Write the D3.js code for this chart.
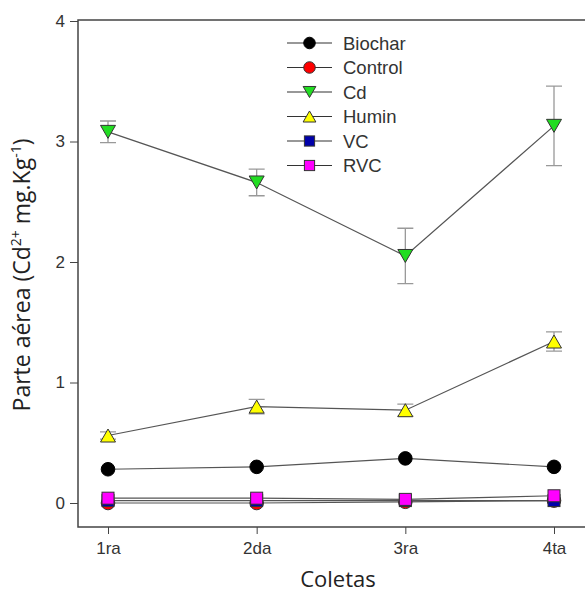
<!DOCTYPE html>
<html>
<head>
<meta charset="utf-8">
<script src="https://cdn.jsdelivr.net/npm/d3@7"></script>
<style>
  body { margin: 0; background: #fff; }
  text { font-family: "Liberation Sans", Arial, sans-serif; }
</style>
</head>
<body>
<script>
const coletas = ['1ra', '2da', '3ra', '4ta']
const yTicks = [0, 1, 2, 3, 4]

const biochar = [0.28, 0.30, 0.37, 0.30]
const control = [0.00, 0.00, 0.01, 0.02]
const cd = [3.08, 2.66, 2.05, 3.13]
const cdErr = [0.09, 0.11, 0.23, 0.33]
const humin = [0.56, 0.80, 0.77, 1.34]
const huminErr = [0.03, 0.06, 0.05, 0.08]
const vc = [0.02, 0.02, 0.02, 0.02]
const rvc = [0.04, 0.04, 0.03, 0.06]

const series = [
  { name: 'Biochar', values: biochar, shape: 'circle', fill: '#000000' },
  { name: 'Control', values: control, shape: 'circle', fill: '#ff0000' },
  { name: 'Cd', values: cd, err: cdErr, shape: 'down', fill: '#22dd22' },
  { name: 'Humin', values: humin, err: huminErr, shape: 'up', fill: '#ffff00' },
  { name: 'VC', values: vc, shape: 'square', fill: '#0000aa' },
  { name: 'RVC', values: rvc, shape: 'square', fill: '#ff00ff' }
]

const width = 585
const height = 592
const margin = { top: 21, right: 0, bottom: 65, left: 78 }

const svg = d3.select('body').append('svg')
  .attr('width', width)
  .attr('height', height)

const x = d3.scalePoint()
  .domain(coletas)
  .range([108, 554])

const y = d3.scaleLinear()
  .domain([0, 4])
  .range([503, 21])

// frame (right side runs off the picture)
svg.append('path')
  .attr('d', `M592,${margin.top - 1}H${margin.left}V527H592`)
  .attr('fill', 'none')
  .attr('stroke', '#444')
  .attr('stroke-width', 1.5)

const yAxis = svg.append('g')
  .attr('transform', `translate(${margin.left},0)`)
  .call(d3.axisLeft(y).tickValues(yTicks).tickFormat(d3.format('d')).tickSize(8).tickPadding(5))
yAxis.select('.domain').remove()

const xAxis = svg.append('g')
  .attr('transform', 'translate(0,527)')
  .call(d3.axisBottom(x).tickSize(7).tickPadding(8))
xAxis.select('.domain').remove()

svg.selectAll('.tick line').attr('stroke', '#444')
svg.selectAll('.tick text')
  .attr('font-size', 17)
  .attr('fill', '#333')
  .style('font-family', '"Liberation Sans", Arial, sans-serif')

svg.append('text')
  .attr('x', 338)
  .attr('y', 587)
  .attr('text-anchor', 'middle')
  .attr('font-size', 22)
  .attr('fill', '#222')
  .style('font-family', '"Open Sans", sans-serif')
  .text('Coletas')

const yTitle = svg.append('text')
  .attr('transform', 'translate(30,275) rotate(-90)')
  .attr('text-anchor', 'middle')
  .attr('font-size', 23)
  .attr('fill', '#222')
  .style('font-family', '"Open Sans", sans-serif')
yTitle.append('tspan').text('Parte aérea (Cd')
yTitle.append('tspan').attr('font-size', 14).attr('dy', -9).text('2+')
yTitle.append('tspan').attr('dy', 9).text(' mg.Kg')
yTitle.append('tspan').attr('font-size', 14).attr('dy', -9).text('-1')
yTitle.append('tspan').attr('dy', 9).text(')')

function drawMarker(g, shape, fill, px, py, k = 1) {
  const stroke = shape === 'circle' && fill === '#000000' ? '#000' : '#333'
  if (shape === 'circle') {
    g.append('circle').attr('cx', px).attr('cy', py).attr('r', 6.8 * k)
      .attr('fill', fill).attr('stroke', stroke).attr('stroke-width', 1)
  } else if (shape === 'square') {
    const a = 6 * k
    g.append('rect').attr('x', px - a).attr('y', py - a).attr('width', 2 * a).attr('height', 2 * a)
      .attr('fill', fill).attr('stroke', stroke).attr('stroke-width', 1)
  } else {
    const s = shape === 'down' ? 1 : -1
    const h = 6.5 * k
    const w = 7.5 * k
    g.append('path')
      .attr('d', `M${px - w},${py - s * h}L${px + w},${py - s * h}L${px},${py + s * h}Z`)
      .attr('fill', fill).attr('stroke', stroke).attr('stroke-width', 1)
  }
}

const line = d3.line()
  .x((d, i) => x(coletas[i]))
  .y(d => y(d))

const plot = svg.append('g')

series.forEach(s => {
  const g = plot.append('g')
  if (s.err) {
    s.values.forEach((v, i) => {
      const px = x(coletas[i])
      const top = y(v + s.err[i])
      const bot = y(v - s.err[i])
      g.append('path')
        .attr('d', `M${px},${top}V${bot}M${px - 8},${top}H${px + 8}M${px - 8},${bot}H${px + 8}`)
        .attr('fill', 'none')
        .attr('stroke', '#999')
        .attr('stroke-width', 1.3)
    })
  }
  g.append('path')
    .datum(s.values)
    .attr('d', line)
    .attr('fill', 'none')
    .attr('stroke', '#555')
    .attr('stroke-width', 1.2)
  s.values.forEach((v, i) => drawMarker(g, s.shape, s.fill, x(coletas[i]), y(v)))
})

// legend
const legend = svg.append('g')
series.forEach((s, i) => {
  const ly = 43 + i * 24.5
  legend.append('line')
    .attr('x1', 287).attr('x2', 332)
    .attr('y1', ly).attr('y2', ly)
    .attr('stroke', '#333').attr('stroke-width', 1.2)
  drawMarker(legend, s.shape, s.fill, 309.5, ly, 0.85)
  legend.append('text')
    .attr('x', 343)
    .attr('y', ly + 6.5)
    .attr('font-size', 18.5)
    .attr('fill', '#333')
    .text(s.name)
})
</script>
</body>
</html>
